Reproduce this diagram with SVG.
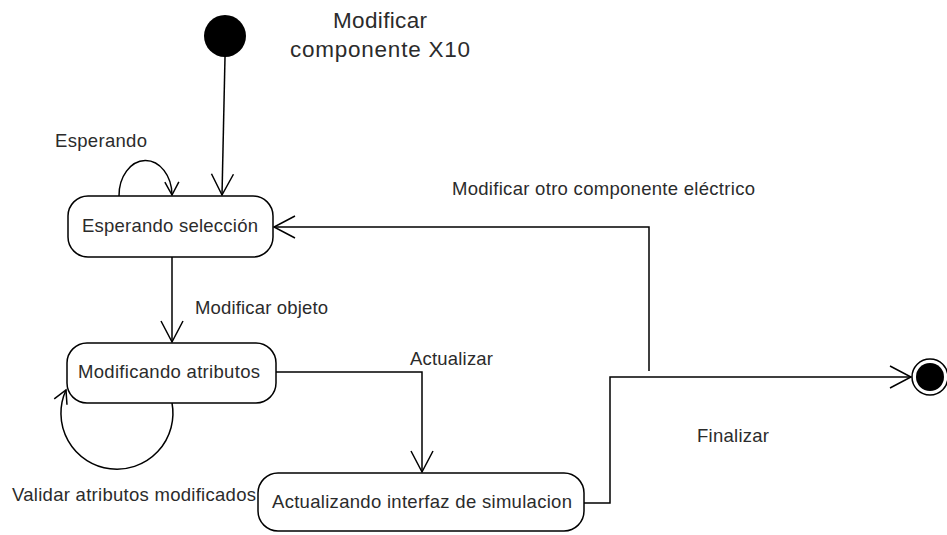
<svg xmlns="http://www.w3.org/2000/svg" width="947" height="535" viewBox="0 0 947 535">
  <style>
    .state { fill: #ffffff; stroke: #000000; stroke-width: 1.5; }
    .lbl { font-family: "Liberation Sans", Arial, sans-serif; font-size: 18.5px; fill: #2b2b2b; }
    .title { font-family: "Liberation Sans", Arial, sans-serif; font-size: 22.5px; fill: #2b2b2b; }
    .edge { fill: none; stroke: #000000; stroke-width: 1.5; }
  </style>
  <defs>
    <marker id="arrow" markerUnits="userSpaceOnUse" markerWidth="30" markerHeight="30" viewBox="-24 -15 28 30" refX="0" refY="0" orient="auto" overflow="visible">
      <path d="M-21,-11 L0,0 L-21,11" fill="none" stroke="#000000" stroke-width="1.5"/>
    </marker>
    <marker id="arrowSmall" markerUnits="userSpaceOnUse" markerWidth="20" markerHeight="20" viewBox="-16 -10 18 20" refX="0" refY="0" orient="auto" overflow="visible">
      <path d="M-13,-7 L0,0 L-13,7" fill="none" stroke="#000000" stroke-width="1.5"/>
    </marker>
  </defs>

  <rect width="947" height="535" fill="#ffffff"/>

  <!-- transitions -->
  <g id="connectors">
    <path class="edge" d="M225,57 L222,195" marker-end="url(#arrow)"/>
    <path class="edge" d="M119,196 A26.5,35 0 0 1 172,195" marker-end="url(#arrowSmall)"/>
    <path class="edge" d="M172,257 L172,342" marker-end="url(#arrow)"/>
    <path class="edge" d="M172,403 A56,56 0 1 1 66,390" marker-end="url(#arrowSmall)"/>
    <path class="edge" d="M276,372 L422,372 L422,472" marker-end="url(#arrow)"/>
    <path class="edge" d="M584,503 L610,503 L610,377 L911,377" marker-end="url(#arrow)"/>
    <path class="edge" d="M649,371 L649,227 L274,227" marker-end="url(#arrow)"/>

    <text class="lbl" x="55" y="147" textLength="92" lengthAdjust="spacing">Esperando</text>
    <text class="lbl" x="195" y="314" textLength="133" lengthAdjust="spacing">Modificar objeto</text>
    <text class="lbl" x="410" y="365" textLength="83" lengthAdjust="spacing">Actualizar</text>
    <text class="lbl" x="12" y="501" textLength="244" lengthAdjust="spacing">Validar atributos modificados</text>
    <text class="lbl" x="452" y="195" textLength="303" lengthAdjust="spacing">Modificar otro componente eléctrico</text>
    <text class="lbl" x="697" y="442" textLength="72" lengthAdjust="spacing">Finalizar</text>
  </g>

  <g id="initial">
    <circle cx="225" cy="36" r="21" fill="#000000"/>
  </g>

  <g id="title">
    <text class="title" x="333" y="28" textLength="94" lengthAdjust="spacing">Modificar</text>
    <text class="title" x="290" y="57" textLength="180" lengthAdjust="spacing">componente X10</text>
  </g>

  <g id="esperando-seleccion">
    <rect class="state" x="68" y="196" width="205" height="61" rx="20" ry="20"/>
    <text class="lbl" x="82" y="232" textLength="176" lengthAdjust="spacing">Esperando selección</text>
  </g>

  <g id="modificando-atributos">
    <rect class="state" x="67" y="343" width="209" height="60" rx="20" ry="20"/>
    <text class="lbl" x="78" y="378" textLength="182" lengthAdjust="spacing">Modificando atributos</text>
  </g>

  <g id="actualizando-interfaz">
    <rect class="state" x="258" y="473" width="326" height="58" rx="20" ry="20"/>
    <text class="lbl" x="272" y="508" textLength="300" lengthAdjust="spacing">Actualizando interfaz de simulacion</text>
  </g>

  <g id="final">
    <circle cx="930" cy="377" r="18" fill="#ffffff" stroke="#000000" stroke-width="1.5"/>
    <circle cx="930" cy="377" r="14" fill="#000000"/>
  </g>
</svg>
